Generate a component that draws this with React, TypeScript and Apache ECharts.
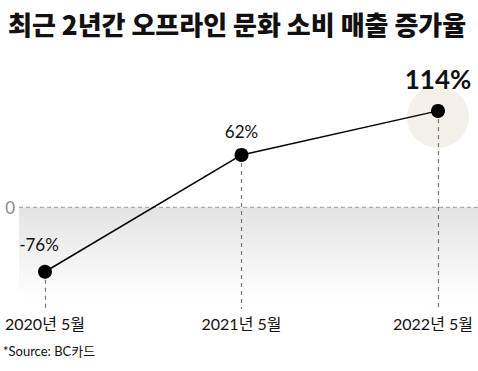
import React, { useEffect, useRef } from "react";
import * as echarts from "echarts";

const categories = ["2020년 5월", "2021년 5월", "2022년 5월"];
const values = [-76, 62, 114];
const valueLabels = ["-76%", "62%", "114%"];
const highlightIndex = 2;
const yMin = -120;
const yMax = 180;

export default function App() {
  const ref = useRef<HTMLDivElement>(null);
  useEffect(() => {
    document.body.style.margin = "0";
    if (!ref.current) return;
    const chart = echarts.init(ref.current, undefined, { renderer: "svg" });
    const numFont = "Lato, 'Noto Sans CJK KR', sans-serif";
    chart.setOption({
      animation: false,
      backgroundColor: "#ffffff",
      title: {
        text: "최근 2년간 오프라인 문화 소비 매출 증가율",
        left: 3,
        top: 5,
        textStyle: {
          fontFamily: "'Noto Sans CJK KR', sans-serif",
          fontWeight: 900,
          fontSize: 26,
          color: "#111",
        },
      },
      grid: { left: 45, right: 40, top: 55, bottom: 62 },
      xAxis: {
        type: "category",
        data: categories.map((c, i) =>
          i === categories.length - 1
            ? { value: c, textStyle: { padding: [0, 10, 0, 0] } }
            : c
        ),
        boundaryGap: false,
        axisLine: { show: false },
        axisTick: { show: false },
        axisLabel: {
          margin: 6,
          fontFamily: numFont,
          fontSize: 16,
          color: "#111",
        },
      },
      yAxis: {
        type: "value",
        min: yMin,
        max: yMax,
        interval: 60,
        splitLine: { show: false },
        axisLine: { show: false },
        axisTick: { show: false },
        axisLabel: {
          formatter: (v: number) => (v === 0 ? "0" : ""),
          margin: 30,
          fontFamily: numFont,
          fontSize: 17,
          color: "#888",
        },
      },
      series: [
        {
          type: "scatter",
          data: values.map((v, i) => (i === highlightIndex ? [i, v] : null)).filter(Boolean),
          symbolSize: 62,
          symbolOffset: [0, 6],
          itemStyle: { color: "#efece4" },
          silent: true,
          z: 1,
        },
        {
          type: "line",
          symbol: "circle",
          symbolSize: 14,
          lineStyle: { color: "#000", width: 1.5 },
          itemStyle: { color: "#000" },
          z: 3,
          label: {
            show: true,
            position: "top",
            distance: 8,
            fontFamily: numFont,
            fontSize: 17,
            color: "#111",
            formatter: (p: any) => valueLabels[p.dataIndex],
          },
          labelLayout: (p: any) =>
            p.dataIndex === 0 ? { dx: -6, dy: -4 } : {},
          data: values.map((v, i) =>
            i === highlightIndex
              ? {
                  value: v,
                  label: { fontSize: 26, fontWeight: "bold", distance: 12 },
                }
              : v
          ),
        },
        {
          type: "line",
          data: [],
          z: 2,
          markLine: {
            silent: true,
            symbol: "none",
            z: 2,
            lineStyle: { color: "#777", type: [4, 4], width: 1.2 },
            label: { show: false },
            data: values.map((v, i) => [
              { coord: [i, v] },
              { coord: [i, yMin] },
            ]),
          },
        },
      ],
    });
    const y0 = chart.convertToPixel({ yAxisIndex: 0 }, 0) as number;
    const w = chart.getWidth();
    chart.setOption({
      graphic: [
        {
          type: "rect",
          z: 0,
          silent: true,
          shape: { x: 19, y: y0, width: w - 19, height: 92 },
          style: {
            fill: new echarts.graphic.LinearGradient(0, 0, 0, 1, [
              { offset: 0, color: "#e4e3e3" },
              { offset: 1, color: "rgba(255,255,255,1)" },
            ]),
          },
        },
        {
          type: "line",
          z: 1,
          silent: true,
          shape: { x1: 19, y1: y0, x2: w, y2: y0 },
          style: { stroke: "#aaa", lineDash: [4, 3], lineWidth: 1.2 },
        },
        {
          type: "text",
          left: 3,
          top: 344,
          style: {
            text: "*Source: BC카드",
            fontFamily: numFont,
            fontSize: 13,
            fill: "#111",
          },
        },
      ],
    });
    return () => chart.dispose();
  }, []);
  return <div ref={ref} style={{ width: 478, height: 371 }} />;
}
